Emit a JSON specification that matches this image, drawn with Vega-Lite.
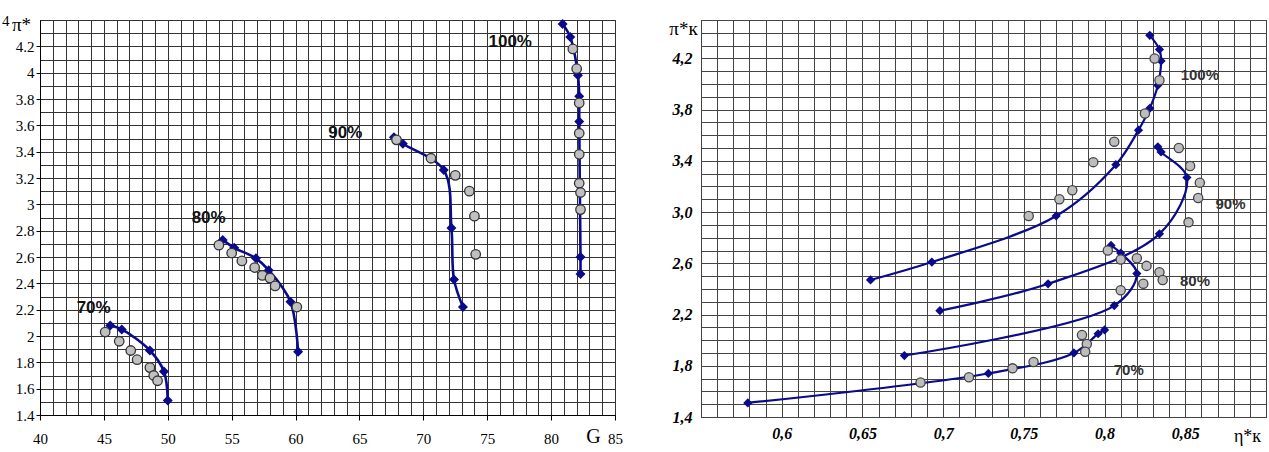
{
  "$schema": "https://vega.github.io/schema/vega-lite/v6.json",
  "background": "white",
  "padding": {"left": 1, "top": 11, "right": 0, "bottom": 0},
  "datasets": {
    "gLine": [
      {"s": "70", "i": 1, "G": 45.5, "pi": 2.08}, {"s": "70", "i": 2, "G": 46.4, "pi": 2.05}, {"s": "70", "i": 3, "G": 48.6, "pi": 1.89}, {"s": "70", "i": 4, "G": 49.7, "pi": 1.73}, {"s": "70", "i": 5, "G": 50.0, "pi": 1.51},
      {"s": "80", "i": 1, "G": 54.3, "pi": 2.73}, {"s": "80", "i": 2, "G": 55.2, "pi": 2.67}, {"s": "80", "i": 3, "G": 56.9, "pi": 2.59}, {"s": "80", "i": 4, "G": 57.9, "pi": 2.50}, {"s": "80", "i": 5, "G": 59.6, "pi": 2.26}, {"s": "80", "i": 6, "G": 60.2, "pi": 1.88},
      {"s": "90", "i": 1, "G": 67.7, "pi": 3.51}, {"s": "90", "i": 2, "G": 68.4, "pi": 3.46}, {"s": "90", "i": 3, "G": 71.6, "pi": 3.26}, {"s": "90", "i": 4, "G": 72.2, "pi": 2.82}, {"s": "90", "i": 5, "G": 72.4, "pi": 2.43}, {"s": "90", "i": 6, "G": 73.1, "pi": 2.22},
      {"s": "100", "i": 1, "G": 80.9, "pi": 4.37}, {"s": "100", "i": 2, "G": 81.5, "pi": 4.27}, {"s": "100", "i": 3, "G": 82.1, "pi": 3.98}, {"s": "100", "i": 4, "G": 82.2, "pi": 3.82}, {"s": "100", "i": 5, "G": 82.2, "pi": 3.63}, {"s": "100", "i": 6, "G": 82.3, "pi": 2.60}, {"s": "100", "i": 7, "G": 82.3, "pi": 2.47}
    ],
    "gPts": [
      {"G": 45.1, "pi": 2.03}, {"G": 46.2, "pi": 1.96}, {"G": 47.1, "pi": 1.89}, {"G": 47.6, "pi": 1.82}, {"G": 48.6, "pi": 1.76}, {"G": 48.9, "pi": 1.70}, {"G": 49.2, "pi": 1.66},
      {"G": 54.0, "pi": 2.69}, {"G": 55.0, "pi": 2.63}, {"G": 55.8, "pi": 2.57}, {"G": 56.8, "pi": 2.52}, {"G": 57.4, "pi": 2.46}, {"G": 58.0, "pi": 2.44}, {"G": 58.4, "pi": 2.38}, {"G": 60.1, "pi": 2.22},
      {"G": 67.9, "pi": 3.49}, {"G": 70.6, "pi": 3.35}, {"G": 72.5, "pi": 3.22}, {"G": 73.6, "pi": 3.10}, {"G": 74.0, "pi": 2.91}, {"G": 74.1, "pi": 2.62},
      {"G": 81.7, "pi": 4.18}, {"G": 82.0, "pi": 4.03}, {"G": 82.2, "pi": 3.77}, {"G": 82.2, "pi": 3.54}, {"G": 82.2, "pi": 3.38}, {"G": 82.2, "pi": 3.16}, {"G": 82.3, "pi": 3.09}, {"G": 82.3, "pi": 2.96}
    ],
    "gLbl": [
      {"G": 44.2, "pi": 2.21, "t": "70%"}, {"G": 53.2, "pi": 2.90, "t": "80%"}, {"G": 63.9, "pi": 3.54, "t": "90%"}, {"G": 76.8, "pi": 4.23, "t": "100%"}
    ],
    "eLine": [
      {"s": "100", "i": 1, "eta": 0.655, "pi": 2.47}, {"s": "100", "i": 2, "eta": 0.693, "pi": 2.61}, {"s": "100", "i": 3, "eta": 0.770, "pi": 2.97}, {"s": "100", "i": 4, "eta": 0.807, "pi": 3.37}, {"s": "100", "i": 5, "eta": 0.821, "pi": 3.64}, {"s": "100", "i": 6, "eta": 0.828, "pi": 3.81}, {"s": "100", "i": 7, "eta": 0.833, "pi": 3.99}, {"s": "100", "i": 8, "eta": 0.835, "pi": 4.18}, {"s": "100", "i": 9, "eta": 0.834, "pi": 4.27}, {"s": "100", "i": 10, "eta": 0.828, "pi": 4.38},
      {"s": "90", "i": 1, "eta": 0.698, "pi": 2.23}, {"s": "90", "i": 2, "eta": 0.765, "pi": 2.44}, {"s": "90", "i": 3, "eta": 0.834, "pi": 2.83}, {"s": "90", "i": 4, "eta": 0.851, "pi": 3.27}, {"s": "90", "i": 5, "eta": 0.835, "pi": 3.47}, {"s": "90", "i": 6, "eta": 0.833, "pi": 3.51},
      {"s": "80", "i": 1, "eta": 0.676, "pi": 1.88}, {"s": "80", "i": 2, "eta": 0.806, "pi": 2.27}, {"s": "80", "i": 3, "eta": 0.820, "pi": 2.52}, {"s": "80", "i": 4, "eta": 0.810, "pi": 2.68}, {"s": "80", "i": 5, "eta": 0.804, "pi": 2.74},
      {"s": "70", "i": 1, "eta": 0.579, "pi": 1.51}, {"s": "70", "i": 2, "eta": 0.728, "pi": 1.74}, {"s": "70", "i": 3, "eta": 0.781, "pi": 1.90}, {"s": "70", "i": 4, "eta": 0.796, "pi": 2.05}, {"s": "70", "i": 5, "eta": 0.800, "pi": 2.08}
    ],
    "ePts": [
      {"eta": 0.831, "pi": 4.20}, {"eta": 0.834, "pi": 4.03}, {"eta": 0.825, "pi": 3.77}, {"eta": 0.806, "pi": 3.55}, {"eta": 0.793, "pi": 3.39}, {"eta": 0.780, "pi": 3.17}, {"eta": 0.772, "pi": 3.10}, {"eta": 0.753, "pi": 2.97},
      {"eta": 0.846, "pi": 3.50}, {"eta": 0.853, "pi": 3.36}, {"eta": 0.859, "pi": 3.23}, {"eta": 0.858, "pi": 3.11}, {"eta": 0.852, "pi": 2.92},
      {"eta": 0.802, "pi": 2.70}, {"eta": 0.810, "pi": 2.63}, {"eta": 0.820, "pi": 2.64}, {"eta": 0.826, "pi": 2.58}, {"eta": 0.824, "pi": 2.44}, {"eta": 0.810, "pi": 2.39}, {"eta": 0.834, "pi": 2.53}, {"eta": 0.836, "pi": 2.47},
      {"eta": 0.686, "pi": 1.67}, {"eta": 0.716, "pi": 1.71}, {"eta": 0.743, "pi": 1.78}, {"eta": 0.756, "pi": 1.83}, {"eta": 0.786, "pi": 2.04}, {"eta": 0.789, "pi": 1.97}, {"eta": 0.788, "pi": 1.91}
    ],
    "eLbl": [
      {"eta": 0.859, "pi": 4.07, "t": "100%"}, {"eta": 0.878, "pi": 3.06, "t": "90%"}, {"eta": 0.856, "pi": 2.46, "t": "80%"}, {"eta": 0.815, "pi": 1.77, "t": "70%"}
    ]
  },
  "hconcat": [
    {
      "width": 575,
      "height": 395,
      "encoding": {
        "x": {"field": "G", "type": "quantitative",
          "scale": {"domain": [40, 85], "nice": false, "zero": false},
          "axis": {
            "values": [40,41,42,43,44,45,46,47,48,49,50,51,52,53,54,55,56,57,58,59,60,61,62,63,64,65,66,67,68,69,70,71,72,73,74,75,76,77,78,79,80,81,82,83,84,85],
            "labelExpr": "datum.value % 5 == 0 ? datum.label : ''",
            "labelFlush": false, "labelOverlap": false,
            "labelFont": "Liberation Serif", "labelFontSize": 15, "labelColor": "#000", "labelPadding": 11,
            "tickSize": 5, "tickColor": "#000",
            "tickOpacity": {"condition": {"test": "datum.value % 5 == 0", "value": 1}, "value": 0},
            "grid": true, "gridColor": "#333", "gridOpacity": 1, "gridWidth": 1,
            "domainColor": "#000",
            "title": "G", "titleFont": "Liberation Serif", "titleFontSize": 20, "titleFontWeight": "normal", "titleColor": "#000",
            "titleX": 553, "titleY": 21, "titleAlign": "center", "titleBaseline": "middle"
          }
        },
        "y": {"field": "pi", "type": "quantitative",
          "scale": {"domain": [1.4, 4.4], "nice": false, "zero": false},
          "axis": {
            "values": [1.4,1.5,1.6,1.7,1.8,1.9,2.0,2.1,2.2,2.3,2.4,2.5,2.6,2.7,2.8,2.9,3.0,3.1,3.2,3.3,3.4,3.5,3.6,3.7,3.8,3.9,4.0,4.1,4.2,4.3,4.4],
            "labelExpr": "abs(datum.value*5 - round(datum.value*5)) < 0.01 ? (datum.value > 4.35 ? '4' : format(datum.value, '.1~f')) : ''",
            "labelFlush": false, "labelOverlap": false,
            "labelFont": "Liberation Serif", "labelFontSize": 15, "labelColor": "#000",
            "labelPadding": {"condition": {"test": "datum.value > 4.35", "value": 27}, "value": 2},
            "tickSize": 4, "tickColor": "#000",
            "tickOpacity": {"condition": {"test": "abs(datum.value*5 - round(datum.value*5)) < 0.01 && datum.value < 4.35", "value": 1}, "value": 0},
            "grid": true, "gridColor": "#333", "gridOpacity": 1, "gridWidth": 1,
            "domainColor": "#000",
            "title": "π*", "titleFont": "Liberation Serif", "titleFontSize": 19, "titleFontWeight": "normal", "titleColor": "#000",
            "titleAngle": 0, "titleX": -19, "titleY": 4, "titleAlign": "center", "titleBaseline": "middle"
          }
        }
      },
      "layer": [
        {
          "data": {"name": "gLine"},
          "mark": {"type": "line", "interpolate": "catmull-rom", "color": "#0a0a8c", "strokeWidth": 2.6},
          "encoding": {
            "detail": {"field": "s"},
            "order": {"field": "i", "type": "quantitative"}
          }
        },
        {
          "data": {"name": "gLine"},
          "mark": {"type": "point", "shape": "diamond", "filled": true, "color": "#0a0a8c", "size": 100, "opacity": 1}
        },
        {
          "data": {"name": "gPts"},
          "mark": {"type": "circle", "fill": "#c0c0c0", "stroke": "#333", "strokeWidth": 1.3, "size": 90, "opacity": 1}
        },
        {
          "data": {"name": "gLbl"},
          "mark": {"type": "text", "font": "Liberation Sans", "fontWeight": "bold", "fontSize": 17, "color": "#111"},
          "encoding": {"text": {"field": "t"}}
        }
      ]
    },
    {
      "width": 565,
      "height": 397,
      "encoding": {
        "x": {"field": "eta", "type": "quantitative",
          "scale": {"domain": [0.55, 0.9], "nice": false, "zero": false},
          "axis": {
            "values": [0.55,0.56,0.57,0.58,0.59,0.6,0.61,0.62,0.63,0.64,0.65,0.66,0.67,0.68,0.69,0.7,0.71,0.72,0.73,0.74,0.75,0.76,0.77,0.78,0.79,0.8,0.81,0.82,0.83,0.84,0.85,0.86,0.87,0.88,0.89,0.9],
            "labelExpr": "(abs(datum.value*20 - round(datum.value*20)) < 0.01 && datum.value > 0.57 && datum.value < 0.88) ? replace(format(datum.value, '.2~f'), '.', ',') : ''",
            "labelFlush": false, "labelOverlap": false,
            "labelFont": "Liberation Serif", "labelFontSize": 16, "labelFontWeight": "bold", "labelFontStyle": "italic", "labelColor": "#000", "labelPadding": 8,
            "ticks": false,
            "grid": true, "gridColor": "#444", "gridOpacity": 1, "gridWidth": 1,
            "domain": false,
            "title": "η*к", "titleFont": "Liberation Serif", "titleFontSize": 18, "titleFontWeight": "normal", "titleColor": "#000",
            "titleX": 546, "titleY": 19, "titleAlign": "center", "titleBaseline": "middle"
          }
        },
        "y": {"field": "pi", "type": "quantitative",
          "scale": {"domain": [1.4, 4.5], "nice": false, "zero": false},
          "axis": {
            "values": [1.4,1.5,1.6,1.7,1.8,1.9,2.0,2.1,2.2,2.3,2.4,2.5,2.6,2.7,2.8,2.9,3.0,3.1,3.2,3.3,3.4,3.5,3.6,3.7,3.8,3.9,4.0,4.1,4.2,4.3,4.4,4.5],
            "labelExpr": "(abs((datum.value-1.4)*2.5 - round((datum.value-1.4)*2.5)) < 0.01 && datum.value < 4.3) ? replace(format(datum.value, '.1f'), '.', ',') : ''",
            "labelFlush": false, "labelOverlap": false,
            "labelFont": "Liberation Serif", "labelFontSize": 16, "labelFontWeight": "bold", "labelFontStyle": "italic", "labelColor": "#000", "labelPadding": 9,
            "ticks": false,
            "grid": true, "gridColor": "#444", "gridOpacity": 1, "gridWidth": 1,
            "domain": false,
            "title": "π*к", "titleFont": "Liberation Serif", "titleFontSize": 19, "titleFontWeight": "normal", "titleColor": "#000",
            "titleAngle": 0, "titleX": -18, "titleY": 8, "titleAlign": "center", "titleBaseline": "middle"
          }
        }
      },
      "layer": [
        {
          "data": {"name": "eLine"},
          "mark": {"type": "line", "interpolate": "catmull-rom", "color": "#0a0a8c", "strokeWidth": 2.2},
          "encoding": {
            "detail": {"field": "s"},
            "order": {"field": "i", "type": "quantitative"}
          }
        },
        {
          "data": {"name": "eLine"},
          "mark": {"type": "point", "shape": "diamond", "filled": true, "color": "#0a0a8c", "size": 85, "opacity": 1}
        },
        {
          "data": {"name": "ePts"},
          "mark": {"type": "circle", "fill": "#bdbdbd", "stroke": "#444", "strokeWidth": 1.3, "size": 85, "opacity": 1}
        },
        {
          "data": {"name": "eLbl"},
          "mark": {"type": "text", "font": "Liberation Sans", "fontWeight": "bold", "fontSize": 15, "color": "#333"},
          "encoding": {"text": {"field": "t"}}
        }
      ]
    }
  ],
  "bounds": "flush",
  "spacing": 86,
  "config": {
    "view": {"stroke": "#000", "strokeWidth": 1}
  }
}
